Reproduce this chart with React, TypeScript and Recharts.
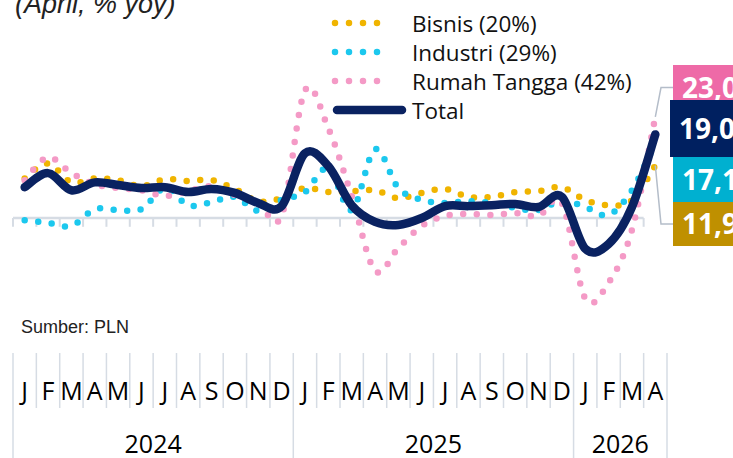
import React from 'react';
import { LineChart, Line, XAxis, YAxis, ReferenceLine, Legend, LabelList } from 'recharts';

// ---------- data ----------
const MONTHS = ['J', 'F', 'M', 'A', 'M', 'J', 'J', 'A', 'S', 'O', 'N', 'D',
  'J', 'F', 'M', 'A', 'M', 'J', 'J', 'A', 'S', 'O', 'N', 'D',
  'J', 'F', 'M', 'A'];
const YEAR_LABELS = ['2024', '2025', '2026'];
const YEAR_MONTH_COUNTS = [12, 12, 4];

const BISNIS = [9.0, 12.4, 8.1, 9.0, 8.6, 7.2, 8.8, 8.4, 8.6, 6.6, 3.8, 4.5,
  6.8, 5.9, 6.1, 6.3, 4.5, 5.7, 6.6, 4.8, 4.8, 5.9, 6.1, 7.0,
  4.1, 2.9, 4.0, 11.9];
const INDUSTRI = [-0.5, -1.1, -1.8, 2.0, 1.8, 2.0, 6.8, 2.9, 3.6, 4.8, 1.6, 4.1,
  5.9, 11.3, 1.8, 15.6, 6.8, 4.1, 3.4, 3.8, 3.4, 2.3, 1.8, 4.0,
  2.5, 0.7, 6.3, 17.1];
const RUMAH_TANGGA = [8.6, 13.8, 10.2, 7.7, 6.8, 6.3, 5.0, 6.1, 7.2, 5.2, 3.4, 0.5,
  29.0, 20.4, 5.0, -12.0, -6.8, -1.8, 0.5, 0.9, 0.7, 1.1, 0.5, 3.4,
  -18.3, -14.7, -2.7, 23.0];
const TOTAL = [7.0, 10.2, 6.3, 8.1, 7.5, 6.8, 7.0, 5.9, 6.6, 5.7, 3.4, 2.7,
  14.7, 11.8, 2.9, -0.9, -1.6, 0.0, 2.7, 2.7, 2.9, 3.2, 2.5, 4.8,
  -7.0, -5.9, 2.5, 19.0];

const SERIES = [
  { key: 'bisnis', name: 'Bisnis (20%)', values: BISNIS },
  { key: 'industri', name: 'Industri (29%)', values: INDUSTRI },
  { key: 'rumah', name: 'Rumah Tangga (42%)', values: RUMAH_TANGGA },
  { key: 'total', name: 'Total', values: TOTAL },
];

const TITLE = '(April, % yoy)';
const SOURCE = 'Sumber: PLN';

// ---------- styles ----------
const STYLE: Record<string, any> = {
  bisnis: { color: '#F0B400', dotted: true, box: '#BF9000', boxTop: 202, boxH: 44, boxLeft: 673, leader: true },
  industri: { color: '#1CC8EE', dotted: true, box: '#00B0D0', boxTop: 157, boxH: 45, boxLeft: 673, leader: false },
  rumah: { color: '#F49AC6', dotted: true, box: '#EE6AA7', boxTop: 65, boxH: 45, boxLeft: 673, leader: true },
  total: { color: '#0A2261', dotted: false, box: '#002060', boxTop: 100, boxH: 57, boxLeft: 670, leader: false },
};
const GRID = '#D6DCE4';
const FONT = '"Open Sans", sans-serif';

// ---------- derived ----------
const LAST = MONTHS.length - 1;
const data = MONTHS.map((m, i) => {
  const row: any = { i, month: m };
  SERIES.forEach((s) => { row[s.key] = s.values[i]; });
  return row;
});
const YEAR_BOUNDS: number[] = [0];
YEAR_MONTH_COUNTS.forEach((c, k) => YEAR_BOUNDS.push(YEAR_BOUNDS[k] + c));
const YEAR_CENTERS = YEAR_MONTH_COUNTS.map((c, k) => YEAR_BOUNDS[k] + (c - 1) / 2);
const MONTH_TICKS: number[] = [];
for (let k = 0; k <= MONTHS.length; k++) {
  MONTH_TICKS.push(k - 0.5);
  if (k < MONTHS.length) MONTH_TICKS.push(k);
}
const ZERO_TICKS = MONTHS.map((_, k) => k - 0.5);

// Catmull-Rom (spreadsheet-style smoothed line)
function smoothCurve(context: any) {
  let xs: number[] = [];
  let ys: number[] = [];
  return {
    areaStart() {},
    areaEnd() {},
    lineStart() { xs = []; ys = []; },
    point(x: number, y: number) { xs.push(+x); ys.push(+y); },
    lineEnd() {
      const n = xs.length;
      if (!n) return;
      context.moveTo(xs[0], ys[0]);
      for (let i = 0; i < n - 1; i++) {
        const x0 = i > 0 ? xs[i - 1] : xs[i];
        const y0 = i > 0 ? ys[i - 1] : ys[i];
        const x3 = i + 2 < n ? xs[i + 2] : xs[i + 1];
        const y3 = i + 2 < n ? ys[i + 2] : ys[i + 1];
        context.bezierCurveTo(
          xs[i] + (xs[i + 1] - x0) / 6, ys[i] + (ys[i + 1] - y0) / 6,
          xs[i + 1] - (x3 - xs[i]) / 6, ys[i + 1] - (y3 - ys[i]) / 6,
          xs[i + 1], ys[i + 1],
        );
      }
    },
  };
}

const fmt = (v: number) => v.toFixed(1).replace('.', ',');

const makeLabel = (key: string) => (props: any) => {
  const { x, y, value, index } = props;
  if (index !== LAST) return null;
  const s = STYLE[key];
  const cy = s.boxTop + s.boxH / 2;
  return (
    <g>
      {s.leader && (
        <polyline
          points={`${x},${y} ${s.boxLeft - 12},${cy} ${s.boxLeft},${cy}`}
          fill="none" stroke="#B4BDC9" strokeWidth={1.5}
        />
      )}
      <rect x={s.boxLeft} y={s.boxTop} width={120} height={s.boxH} fill={s.box} />
      <text x={s.boxLeft + 9} y={cy + 10} fill="#fff" fontWeight="bold" fontSize={28} fontFamily={FONT}>
        {fmt(Number(value))}
      </text>
    </g>
  );
};

const MonthTick = (props: any) => {
  const { x, y, payload } = props;
  const v = payload.value;
  if (Number.isInteger(v)) {
    return (
      <text x={x} y={y + 50} textAnchor="middle" fontSize={25} fontFamily={FONT} fill="#000">
        {MONTHS[v]}
      </text>
    );
  }
  const long = YEAR_BOUNDS.includes(v + 0.5);
  return <line x1={x} x2={x} y1={y + 3} y2={y + (long ? 108 : 58)} stroke={GRID} strokeWidth={1.5} />;
};

const YearTick = (props: any) => {
  const { x, y, payload } = props;
  const k = YEAR_CENTERS.indexOf(payload.value);
  return (
    <text x={x} y={y + 45} textAnchor="middle" fontSize={25} fontFamily={FONT} fill="#000">
      {YEAR_LABELS[k]}
    </text>
  );
};

const LegendContent = () => (
  <svg width={320} height={125} style={{ display: 'block' }}>
    {SERIES.map((s, i) => {
      const st = STYLE[s.key];
      const y = 23 + i * 29;
      return (
        <g key={s.key}>
          <line
            x1={st.dotted ? 5 : 7} x2={st.dotted ? 61 : 72} y1={y} y2={y}
            stroke={st.color} strokeWidth={st.dotted ? 6.5 : 8.5}
            strokeDasharray={st.dotted ? '0 14' : undefined} strokeLinecap="round"
          />
          <text x={82} y={y} dominantBaseline="central" fontSize={22.5} fontFamily={FONT} fill="#111">
            {s.name}
          </text>
        </g>
      );
    })}
  </svg>
);

export default function App() {
  return (
    <div style={{ position: 'absolute', left: 0, top: 0, width: 733, height: 458, background: '#fff', overflow: 'hidden' }}>
      <LineChart width={733} height={458} data={data} margin={{ top: 64, right: 66, bottom: 0, left: 13 }}>
        <XAxis
          dataKey="i" type="number" domain={[-0.5, LAST + 0.5]} ticks={MONTH_TICKS} interval={0}
          axisLine={false} tickLine={false} tickSize={0} tickMargin={0} height={58} tick={<MonthTick />}
        />
        <XAxis
          xAxisId="year" dataKey="i" type="number" domain={[-0.5, LAST + 0.5]} ticks={YEAR_CENTERS} interval={0}
          axisLine={false} tickLine={false} tickSize={0} tickMargin={0} height={50} tick={<YearTick />}
        />
        <YAxis hide type="number" domain={[-30, 35]} allowDataOverflow />
        <ReferenceLine
          segment={[{ x: -0.5, y: 0 }, { x: LAST - 0.5, y: 0 }]}
          stroke={GRID} strokeWidth={2.5}
        />
        {ZERO_TICKS.map((t) => (
          <ReferenceLine key={t} segment={[{ x: t, y: 0 }, { x: t, y: -2 }]} stroke={GRID} strokeWidth={2} />
        ))}
        {SERIES.map((s) => {
          const st = STYLE[s.key];
          return (
            <Line
              key={s.key}
              dataKey={s.key}
              name={s.name}
              type={smoothCurve as any}
              stroke={st.color}
              strokeWidth={st.dotted ? 6.5 : 8.5}
              strokeDasharray={st.dotted ? '0 13.6' : undefined}
              strokeLinecap="round"
              strokeLinejoin="round"
              dot={false}
              activeDot={false}
              isAnimationActive={false}
            >
              <LabelList dataKey={s.key} content={makeLabel(s.key)} />
            </Line>
          );
        })}
        <Legend
          layout="vertical" align="center" verticalAlign="middle"
          content={<LegendContent />}
          wrapperStyle={{ position: 'absolute', left: 330, top: 0, width: 320, height: 125 }}
        />
      </LineChart>
      <svg width={733} height={458} style={{ position: 'absolute', left: 0, top: 0, pointerEvents: 'none' }}>
        <text x={15} y={13} fontSize={27} fontStyle="italic" fontFamily='"Liberation Sans", Arial, sans-serif' fill="#222">
          {TITLE}
        </text>
        <text x={21} y={333} fontSize={18} fontFamily='"Liberation Sans", Arial, sans-serif' fill="#222">
          {SOURCE}
        </text>
      </svg>
    </div>
  );
}
